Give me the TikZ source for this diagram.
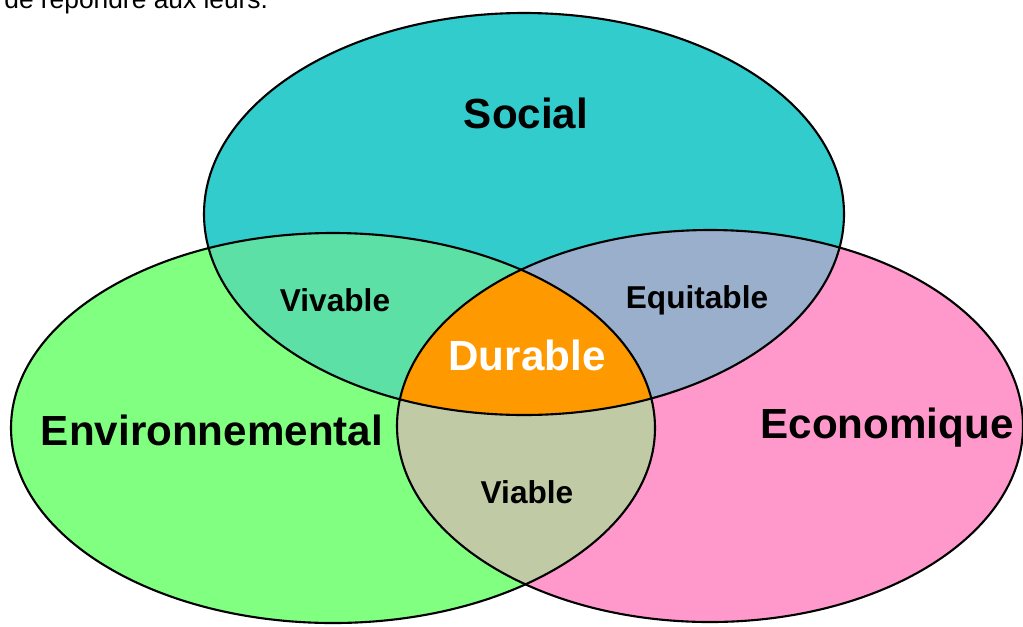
\documentclass[tikz,border=0pt]{standalone}
\usepackage{fontspec}
\setmainfont{Liberation Sans}
\definecolor{socialc}{HTML}{33CCCC}
\definecolor{envc}{HTML}{80FF80}
\definecolor{ecoc}{HTML}{FF99CC}
\definecolor{vivc}{HTML}{5CE0A6}
\definecolor{equc}{HTML}{99AFCC}
\definecolor{viac}{HTML}{C0CBA6}
\definecolor{durc}{HTML}{FF9900}
\def\SocPath{(524,214) ellipse [x radius=320, y radius=201]}
\def\EnvPath{(333,428) ellipse [x radius=322, y radius=195]}
\def\EcoPath{(710,426) ellipse [x radius=313, y radius=196]}
\tikzset{
  big/.style={font=\fontsize{24}{28}\selectfont\bfseries, inner sep=0pt},
  small/.style={font=\fontsize{18}{22}\selectfont\bfseries, inner sep=0pt},
  outline/.style={draw=black, line width=1.2pt}
}
\begin{document}
\begin{tikzpicture}[x=0.02cm, y=-0.02cm]
\useasboundingbox (0,0) rectangle (1023,626);
\clip (0,0) rectangle (1023,626);
\fill[white] (0,0) rectangle (1023,626);
\node[anchor=base west, inner sep=0pt, font=\fontsize{15}{18}\selectfont] (top) at (4,8) {de répondre aux leurs.};
\fill[envc] \EnvPath;
\fill[ecoc] \EcoPath;
\fill[socialc] \SocPath;
\begin{scope}
  \clip \SocPath;
  \fill[vivc] \EnvPath;
  \fill[equc] \EcoPath;
\end{scope}
\begin{scope}
  \clip \EnvPath;
  \fill[viac] \EcoPath;
\end{scope}
\begin{scope}
  \clip \SocPath;
  \clip \EnvPath;
  \fill[durc] \EcoPath;
\end{scope}
\draw[outline] \EnvPath;
\draw[outline] \EcoPath;
\draw[outline] \SocPath;
\node[big] (soc) at (526,113) {Social};
\node[big] (env) at (212,430) {Environnemental};
\node[big] (eco) at (887,428) {Economique};
\node[big, text=white] (dur) at (527,355) {Durable};
\node[small] (viv) at (335,300) {Vivable};
\node[small] (equ) at (697,300) {Equitable};
\node[small] (via) at (527,492) {Viable};
\end{tikzpicture}
\end{document}
